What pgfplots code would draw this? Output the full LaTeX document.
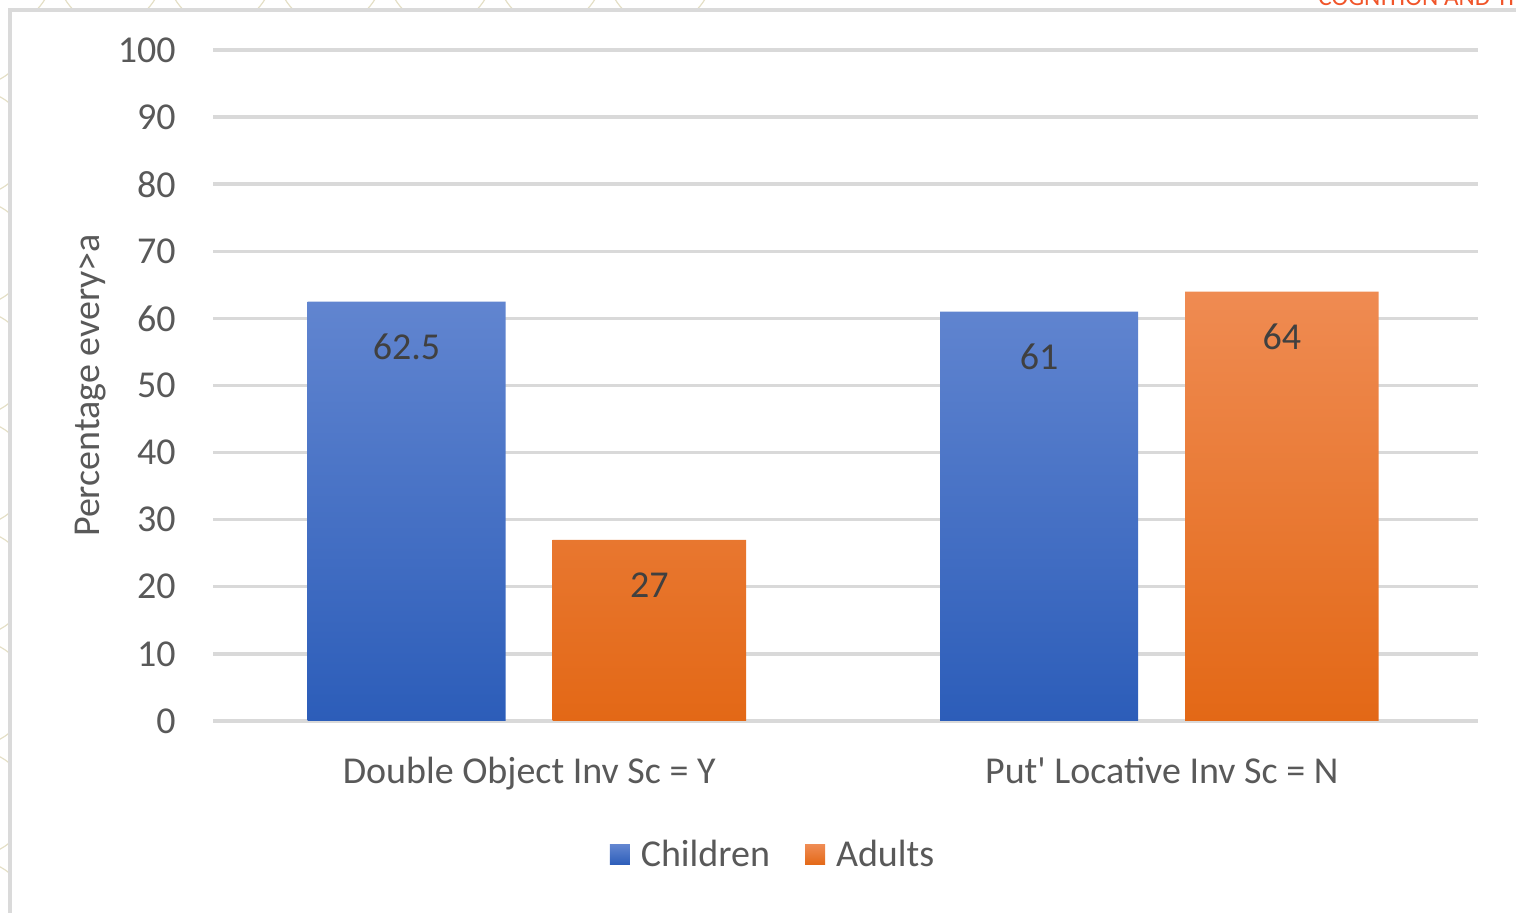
\documentclass[border=0pt]{standalone}
\usepackage{pgfplots}
\pgfplotsset{compat=1.18}
\usepackage{fontspec}
\setmainfont{Carlito}

\definecolor{gridgray}{HTML}{D9D9D9}
\definecolor{framegray}{HTML}{DADADA}
\definecolor{ticktext}{HTML}{595959}
\definecolor{valtext}{HTML}{404040}
\definecolor{blueTop}{HTML}{6185D0}
\definecolor{blueBot}{HTML}{2C5DB9}
\definecolor{orangeTop}{HTML}{EF8B52}
\definecolor{orangeBot}{HTML}{E36816}
\definecolor{brandred}{HTML}{F0552A}
\definecolor{scallop}{HTML}{E4DFC6}

\begin{document}
\begin{tikzpicture}
\useasboundingbox (0,0) rectangle (758pt,456.5pt);

% decorative scallops outside the frame
\begin{scope}
  \clip (0,0) rectangle (4pt,456.5pt);
  \foreach \yy in {0,55,...,495}{
    \draw[scallop, line width=0.6pt] (-12pt,\yy pt) circle (26pt);
  }
\end{scope}
\begin{scope}
  \clip (0,452.5pt) rectangle (758pt,456.5pt);
  \foreach \xx in {0,55,...,330}{
    \draw[scallop, line width=0.6pt] (\xx pt,470pt) circle (26pt);
  }
\end{scope}

% publisher heading, partly off the page
\node[anchor=base west, inner sep=0pt, text=brandred,
      font=\fontsize{12.6}{15}\selectfont] at (659pt,453.6pt) {COGNITION AND THOUGHT};

% chart frame
\draw[framegray, line width=2pt] (5pt,-5pt) -- (5pt,451.5pt) -- (770pt,451.5pt);

\begin{axis}[
  at={(106.5pt,96pt)}, anchor=south west,
  scale only axis,
  width=632.5pt, height=335.5pt,
  xmin=-0.5, xmax=1.5,
  ymin=0, ymax=100,
  ytick={0,10,...,100},
  xtick={0,1},
  xticklabels={Double Object Inv Sc = Y, Put\textquotesingle{} Locative Inv Sc = N},
  axis line style={draw=none},
  major tick length=0pt,
  ymajorgrids,
  grid style={gridgray, line width=1.7pt},
  /pgf/number format/assume math mode=true,
  yticklabel style={anchor=east, inner sep=0pt, xshift=-18.5pt,
    text=ticktext, font=\fontsize{19}{22}\selectfont},
  xticklabel style={anchor=base, inner sep=0pt, yshift=-31.5pt,
    text=ticktext, font=\fontsize{19}{22}\selectfont},
  ylabel={Percentage every>a},
  every axis y label/.style={at={(axis description cs:-0.0965,0.5)},
    anchor=center, rotate=90, text=ticktext,
    font=\fontsize{19}{22}\selectfont},
  ybar,
  nodes near coords,
  every node near coord/.append style={anchor=center, yshift=-22.5pt,
    text=valtext, font=\fontsize{19}{22}\selectfont,
    /pgf/number format/assume math mode=true},
  legend columns=2,
  legend style={at={(axis description cs:0.4435,-0.1997)}, anchor=center,
    draw=none, fill=none, text=ticktext,
    font=\fontsize{19}{22}\selectfont,
    /tikz/every odd column/.append style={column sep=3.5pt},
    /tikz/every even column/.append style={column sep=15.5pt},
    inner sep=0pt},
  legend image code/.code={\fill[#1] (0pt,-5pt) rectangle (10pt,5pt);},
]
\addplot[draw=none, bar width=0.313, bar shift=-0.194,
         top color=blueTop, bottom color=blueBot]
  coordinates {(0,62.5) (1,61)};
\addlegendentry{Children}
\addplot[draw=none, bar width=0.306, bar shift=0.19,
         top color=orangeTop, bottom color=orangeBot]
  coordinates {(0,27) (1,64)};
\addlegendentry{Adults}
\end{axis}
\end{tikzpicture}
\end{document}
